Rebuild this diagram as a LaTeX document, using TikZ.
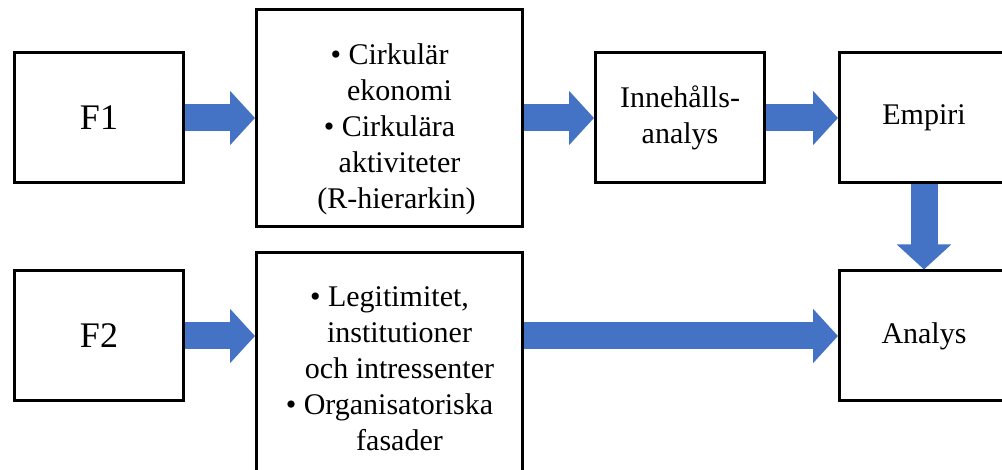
\documentclass[tikz,border=0pt]{standalone}
\usepackage{fontspec}
\setmainfont{Liberation Serif}
\usetikzlibrary{positioning}
\usetikzlibrary{arrows.meta}

\definecolor{flowblue}{HTML}{4472C4}

\begin{document}
\begin{tikzpicture}[ x                 = 1pt
                   , y                 = -1pt
                   , align             = center
                   , font              = \fontsize{30}{36}\selectfont
                   , every node/.style = { rectangle
                                         , draw       = black
                                         , line width = 3pt
                                         , align      = center
                                         }
                   , node distance = 70pt and 70pt
                   ]

  %%
  %% Node types
  %%
  \tikzset{ stage/.style={minimum width=169pt, minimum height=130pt}
          , source/.style={stage, font=\fontsize{36}{40}\selectfont}
          , topic/.style={minimum width=266pt, minimum height=217pt}
          }

  %%
  %% Arrow types
  %%
  \tikzset{ flow/.style={flowblue, line width=27pt, -{Triangle[length=25pt, width=53pt]}}
          }

  \useasboundingbox (0,0) rectangle (1002,470);

  %%
  %% Nodes
  %%
  \node (f1)  [source] at (99,118) {F1};
  \node (ce)  [topic, right = of f1] {\rule{0pt}{44pt}\textbullet\ Cirkulär\\
                                      \hspace*{20pt}ekonomi\\
                                      \textbullet\ Cirkulära\\
                                      \hspace*{20pt}aktiviteter\\
                                      \hspace*{14pt}(R-hierarkin)};
  \node (ina) [stage, right = of ce]        {Innehålls-\\analys};
  \node (emp) [stage, right = 72pt of ina]  {Empiri};

  \node (f2)  [source, below = 85pt of f1]  {F2};
  \node (leg) [topic, minimum height = 232pt, below = 23pt of ce]
              {\textbullet\ Legitimitet,\\
               \hspace*{20pt}institutioner\\
               \hspace*{20pt}och intressenter\\
               \textbullet\ Organisatoriska\\
               \hspace*{20pt}fasader};
  \node (ana) [stage, below = 85pt of emp]  {Analys};

  %%
  %% Flow between nodes
  %%
  \draw[flow] (f1.east) -- (f1.east -| ce.west);
  \draw[flow] (ce.east |- ina.west) -- (ina.west);
  \draw[flow] (ina.east) -- (emp.west);
  \draw[flow] (emp.south) -- (ana.north);

  \draw[flow] (f2.east) -- (f2.east -| leg.west);
  \draw[flow] (leg.east |- ana.west) -- (ana.west);

\end{tikzpicture}
\end{document}
